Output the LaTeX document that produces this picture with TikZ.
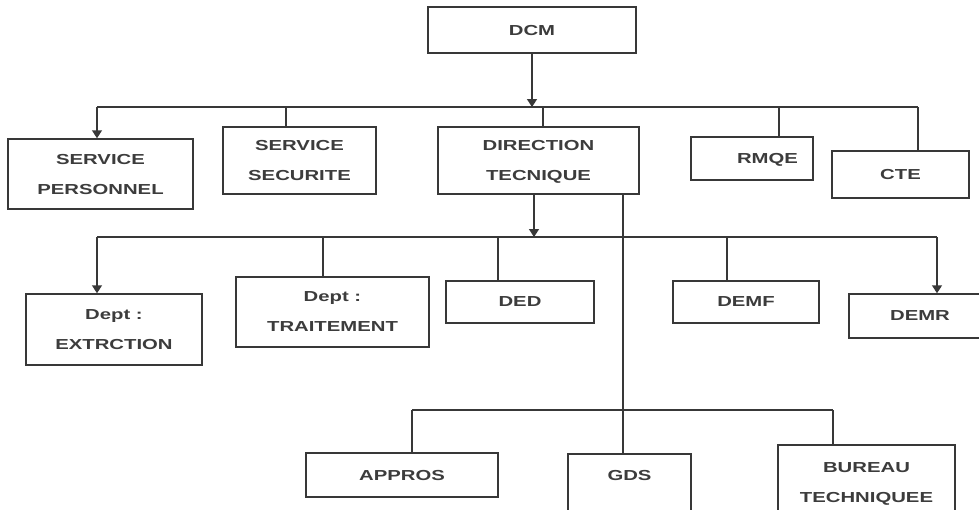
\documentclass[tikz,border=0pt]{standalone}
\usepackage{fontspec}
\newfontfamily\boxfont[FakeStretch=1.4]{Liberation Sans}
\usetikzlibrary{arrows.meta}
\definecolor{ink}{HTML}{383838}
\definecolor{txt}{HTML}{3C3C3C}
\tikzset{
  box/.style={draw=ink, line width=1.5pt, fill=white, align=center, inner sep=0pt,
    text depth=0pt, font=\boxfont\bfseries\fontsize{14.5}{30}\selectfont, text=txt},
  wire/.style={draw=ink, line width=1.5pt},
  arr/.style={wire, -{Triangle[width=10pt,length=8pt]}},
}
\begin{document}
\begin{tikzpicture}[x=1pt,y=-1pt]
\useasboundingbox (0,0) rectangle (979,509);
\clip (0,0) rectangle (979,509);
% level 0
\node[box, minimum width=208, minimum height=46] (dcm) at (532,30) {DCM};
% level 1
\node[box, minimum width=185, minimum height=70] (sp) at (100.5,174) {SERVICE\\PERSONNEL};
\node[box, minimum width=153, minimum height=67] (ss) at (299.5,160.5) {SERVICE\\SECURITE};
\node[box, minimum width=201, minimum height=67] (dt) at (538.5,160.5) {DIRECTION\\TECNIQUE};
\node[box, minimum width=122, minimum height=43] (rm) at (752,158.5) {\hspace*{31pt}RMQE};
\node[box, minimum width=137, minimum height=47] (cte) at (900.5,174.5) {CTE};
% level 2
\node[box, minimum width=176, minimum height=71] (ext) at (114,329.5) {Dept :\\EXTRCTION};
\node[box, minimum width=193, minimum height=70] (tra) at (332.5,312) {Dept :\\TRAITEMENT};
\node[box, minimum width=148, minimum height=42] (ded) at (520,302) {DED};
\node[box, minimum width=146, minimum height=42] (demf) at (746,302) {DEMF};
\node[box, minimum width=142, minimum height=44] (demr) at (920,316) {DEMR};
% level 3
\node[box, minimum width=192, minimum height=44] (app) at (402,475) {APPROS};
\node[box, anchor=north, minimum width=123, inner ysep=16, text height=11, text depth=60] (gds) at (629.5,453) {GDS};
\node[box, anchor=north, minimum width=177, inner ysep=17, text height=41, text depth=60] (bur) at (866.5,444) {BUREAU\\TECHNIQUEE};
% bus 1
\coordinate (b1l) at (97,107);
\coordinate (b1r) at (918,107);
\coordinate (d1ss) at (286,107);
\coordinate (d1dt) at (543,107);
\coordinate (d1rm) at (779,107);
\draw[arr] (dcm.south) -- (dcm.south |- b1l);
\draw[wire] (b1l) -- (b1r);
\draw[arr] (b1l) -- (b1l |- sp.north);
\draw[wire] (d1ss) -- (d1ss |- ss.north);
\draw[wire] (d1dt) -- (d1dt |- dt.north);
\draw[wire] (d1rm) -- (d1rm |- rm.north);
\draw[wire] (b1r) -- (b1r |- cte.north);
% bus 2
\coordinate (b2l) at (97,237);
\coordinate (b2r) at (937,237);
\coordinate (b2in) at (534,237);
\coordinate (d2tra) at (323,237);
\coordinate (d2ded) at (498,237);
\coordinate (d2demf) at (727,237);
\draw[arr] (b2in |- dt.south) -- (b2in);
\draw[wire] (b2l) -- (b2r);
\draw[arr] (b2l) -- (b2l |- ext.north);
\draw[wire] (d2tra) -- (d2tra |- tra.north);
\draw[wire] (d2ded) -- (d2ded |- ded.north);
\draw[wire] (d2demf) -- (d2demf |- demf.north);
\draw[arr] (b2r) -- (b2r |- demr.north);
% bus 3
\coordinate (g) at (623,410);
\coordinate (b3l) at (412,410);
\coordinate (b3r) at (833,410);
\draw[wire] (g |- dt.south) -- (g |- gds.north);
\draw[wire] (b3l) -- (b3r);
\draw[wire] (b3l) -- (b3l |- app.north);
\draw[wire] (b3r) -- (b3r |- bur.north);
\end{tikzpicture}
\end{document}
